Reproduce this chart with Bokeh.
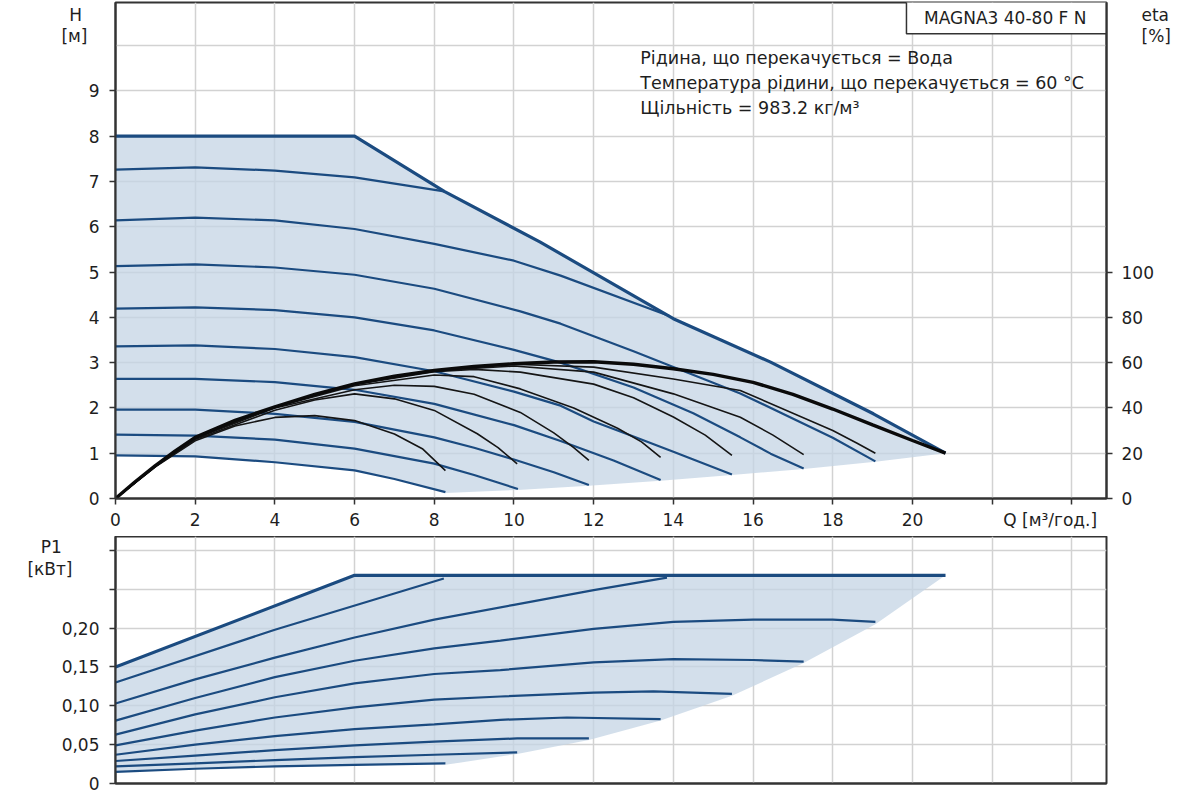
from bokeh.plotting import figure
from bokeh.layouts import column
from bokeh.models import Range1d, LinearAxis, FixedTicker, CustomJSTickFormatter, Label
from bokeh.embed import file_html
from bokeh.resources import INLINE

# ---------------- data ----------------
# Q-H curves [m3/h, m]
MAX_Q = [0, 6, 8.25, 10.66, 14, 16.44, 19.02, 20.83]
MAX_H = [8, 8, 6.78, 5.66, 3.97, 3.01, 1.87, 1.0]
A_Q = [0, 2, 4, 6, 8.25]
A_H = [7.26, 7.31, 7.24, 7.09, 6.78]
B_Q = [0, 2, 4, 6, 8, 10, 11.17, 13.9]
B_H = [6.14, 6.2, 6.14, 5.95, 5.62, 5.25, 4.92, 4.03]
C_Q = [0, 2, 4, 6, 8, 10.16, 11.17, 13, 15.68, 18, 19.07]
C_H = [5.13, 5.17, 5.1, 4.94, 4.63, 4.13, 3.86, 3.25, 2.32, 1.34, 0.82]
D_Q = [0, 2, 4, 6, 8, 10, 11.17, 13, 14.5, 15.68, 16.44, 17.27]
D_H = [4.19, 4.22, 4.16, 4.0, 3.71, 3.28, 3.0, 2.45, 1.88, 1.35, 0.99, 0.66]
E_Q = [0, 2, 4, 6, 8, 10, 11.17, 12, 13, 14, 15.47]
E_H = [3.36, 3.38, 3.3, 3.12, 2.81, 2.36, 2.05, 1.7, 1.37, 1.03, 0.53]
F_Q = [0, 2, 4, 6, 8, 10, 11.17, 12.5, 13.68]
F_H = [2.64, 2.64, 2.57, 2.4, 2.09, 1.62, 1.27, 0.84, 0.41]
G_Q = [0, 2, 4, 6, 8, 9, 10, 11, 11.88]
G_H = [1.96, 1.96, 1.87, 1.69, 1.35, 1.12, 0.86, 0.58, 0.30]
H_Q = [0, 2, 4, 6, 8, 9, 10.1]
H_H = [1.41, 1.39, 1.3, 1.1, 0.77, 0.52, 0.21]
I_Q = [0, 2, 4, 6, 7, 8.28]
I_H = [0.95, 0.93, 0.8, 0.62, 0.43, 0.14]
LOW_Q = [20.83, 19.07, 17.27, 15.47, 13.68, 11.88, 10.1, 8.28]
LOW_H = [1.0, 0.81, 0.65, 0.52, 0.39, 0.28, 0.19, 0.12]

# efficiency curves [m3/h, %]
ETA_MAX_Q = [0, 0.5, 1, 1.5, 2, 3, 4, 5, 6, 7, 8, 9, 10, 11, 12, 13, 14, 15, 16, 17, 18, 19, 20, 20.83]
ETA_MAX = [0, 7.5, 14.5, 21, 27, 34.5, 40.5, 46, 50.6, 54, 56.5, 58.3, 59.5, 60.3, 60.4, 59.3,
           57.3, 54.8, 51.3, 46, 39.5, 32.5, 25.6, 20]
S1_Q = [0, 1, 2, 3, 4, 5, 6, 7, 7.7, 8.28]
S1 = [0, 14, 25.5, 32, 35.8, 36.6, 34.4, 28.5, 22, 12.3]
S2_Q = [0, 1, 2, 4, 5, 6, 7, 8, 9.08, 9.6, 10.08]
S2 = [0, 14.2, 26, 39, 43.5, 46.2, 44, 38.9, 28.6, 22.5, 15.3]
S3_Q = [0, 1, 2, 4, 6, 7, 8, 9, 10.16, 11, 11.5, 11.88]
S3 = [0, 14.3, 26.5, 40, 48, 50, 49.5, 46, 38, 29, 22.5, 16.8]
S4_Q = [0, 1, 2, 4, 6, 8, 9, 10.16, 11.5, 12.6, 13.2, 13.68]
S4 = [0, 14.4, 26.8, 40.3, 49.8, 54.5, 53.8, 48.4, 40, 31, 25, 18.2]
S5_Q = [0, 1, 2, 4, 6, 8, 9, 10.16, 12, 13, 14, 14.8, 15.47]
S5 = [0, 14.5, 27, 40.5, 50.3, 56, 57, 55.8, 50.5, 44.5, 36, 28, 19]
S6_Q = [0, 1, 2, 4, 6, 8, 10, 12, 14, 15.68, 16.5, 17.27]
S6 = [0, 14.5, 27, 40.5, 50.5, 56.4, 58.5, 55.8, 46.2, 35.9, 28, 19.4]
S7_Q = [0, 1, 2, 4, 6, 8, 10, 12, 14, 15.68, 18, 18.6, 19.07]
S7 = [0, 14.5, 27, 40.5, 50.6, 56.5, 59.3, 58, 52.8, 47.7, 30, 24.5, 20]

# power curves [m3/h, kW]
PMAX_Q = [0, 6, 20.83]
PMAX = [0.15, 0.268, 0.268]
PA_Q = [0, 4, 8.24]
PA = [0.130, 0.198, 0.264]
PB_Q = [0, 2, 4, 6, 8, 10, 12, 13.84]
PB = [0.103, 0.134, 0.162, 0.188, 0.211, 0.23, 0.249, 0.265]
PC_Q = [0, 2, 4, 6, 8, 9.66, 12, 14, 16, 18, 19.07]
PC = [0.081, 0.11, 0.137, 0.158, 0.174, 0.184, 0.199, 0.208, 0.211, 0.211, 0.208]
PD_Q = [0, 2, 4, 6, 8, 9.66, 12, 14, 16, 17.27]
PD = [0.063, 0.089, 0.111, 0.129, 0.141, 0.146, 0.156, 0.160, 0.159, 0.157]
PE_Q = [0, 2, 4, 6, 8, 9.66, 12, 13.5, 15.47]
PE = [0.049, 0.068, 0.085, 0.098, 0.108, 0.112, 0.117, 0.1186, 0.1155]
PF_Q = [0, 2, 4, 6, 8, 9.66, 11.33, 13.68]
PF = [0.037, 0.05, 0.061, 0.07, 0.076, 0.082, 0.085, 0.083]
PG_Q = [0, 2, 4, 6, 8, 10.08, 11.88]
PG = [0.029, 0.036, 0.043, 0.049, 0.054, 0.058, 0.058]
PH_Q = [0, 2, 4, 6, 8, 10.08]
PH = [0.022, 0.026, 0.03, 0.034, 0.037, 0.040]
PI_Q = [0, 2, 4, 6, 8.28]
PI = [0.015, 0.019, 0.022, 0.024, 0.026]
PLOW_Q = [20.83, 19.07, 17.27, 15.47, 13.68, 11.88, 10.08, 8.28]
PLOW = [0.268, 0.205, 0.155, 0.113, 0.081, 0.056, 0.038, 0.024]

X_TICKS = list(range(0, 25, 2))
H_TICKS = list(range(0, 10))
H_GRID = list(range(0, 12))
ETA_TICKS = [0, 20, 40, 60, 80, 100]
P_TICKS = [0, 0.05, 0.1, 0.15, 0.2, 0.25, 0.3]

TITLE = "MAGNA3 40-80 F N"
INFO = ["Рідина, що перекачується = Вода",
        "Температура рідини, що перекачується = 60 °C",
        "Щільність = 983.2 кг/м³"]
NB = "\u00a0"
Q_LABEL = "Q [м³/год.]"
H_LABELS = ["H" + NB, "[м]"]
H_LABEL_POS = [10.68, 10.2]
ETA_LABELS = ["eta", "[%]"]
ETA_LABEL_POS = [10.68, 10.2]
P_LABELS = ["P1" + NB * 2, "[кВт]"]
P_LABEL_POS = [0.306, 0.276]

# ---------------- style ----------------
FONT = "DejaVu Sans"
FS = "17px"
BLUE = "#1b4b80"
FILL = "#c4d4e4"
GRID = "#d2d2d2"
AX = "#333333"
TXT = "#1e1e1e"
Q_END = 24.87
H_TOP = 10.95
P_TOP = 0.318

LABEL_JS = """
const i = pos.findIndex(t => Math.abs(t - tick) < 1e-6);
return i < 0 ? '' : labs[i];
"""


def style_axis(ax, standoff):
    ax.axis_line_color = AX
    ax.axis_line_width = 2
    ax.major_tick_line_color = AX
    ax.major_tick_line_width = 1.5
    ax.major_tick_out = 6
    ax.major_tick_in = 0
    ax.minor_tick_line_color = None
    ax.major_label_text_font = FONT
    ax.major_label_text_font_size = FS
    ax.major_label_text_color = TXT
    ax.major_label_standoff = standoff


def label_axis(positions, texts, standoff, y_range_name="default"):
    ax = LinearAxis(y_range_name=y_range_name, ticker=FixedTicker(ticks=positions),
                    formatter=CustomJSTickFormatter(args=dict(pos=positions, labs=texts), code=LABEL_JS))
    ax.axis_line_color = None
    ax.major_tick_line_color = None
    ax.minor_tick_line_color = None
    ax.major_tick_out = 0
    ax.major_tick_in = 0
    ax.major_label_text_font = FONT
    ax.major_label_text_font_size = FS
    ax.major_label_text_color = TXT
    ax.major_label_standoff = standoff
    return ax


# ---------------- top figure: Q-H and eta ----------------
p1 = figure(frame_width=991, frame_height=496, x_range=Range1d(0, Q_END), y_range=Range1d(0, H_TOP),
            output_backend="svg", toolbar_location=None,
            min_border_left=115, min_border_right=86, min_border_top=2, min_border_bottom=38)
p1.outline_line_color = AX
p1.outline_line_width = 2
p1.xgrid.ticker = FixedTicker(ticks=X_TICKS)
p1.ygrid.ticker = FixedTicker(ticks=H_GRID)
for g in (p1.xgrid, p1.ygrid):
    g.grid_line_color = GRID
    g.grid_line_width = 1.5

style_axis(p1.xaxis[0], 5)
p1.xaxis.ticker = FixedTicker(ticks=X_TICKS)
p1.xaxis.formatter = CustomJSTickFormatter(args=dict(qlabel=Q_LABEL + NB * 8), code="""
if (tick > 23) return qlabel;
if (tick > 21) return '';
return tick.toString();
""")
style_axis(p1.yaxis[0], 10)
p1.yaxis.ticker = FixedTicker(ticks=H_TICKS)
p1.add_layout(label_axis(H_LABEL_POS, H_LABELS, -2), "left")

p1.extra_y_ranges = {"eta": Range1d(0, H_TOP * 20)}
eta_axis = LinearAxis(y_range_name="eta", ticker=FixedTicker(ticks=ETA_TICKS))
style_axis(eta_axis, 9)
p1.add_layout(eta_axis, "right")
p1.add_layout(label_axis(ETA_LABEL_POS, ETA_LABELS, -15), "right")

# fill region
fill_x = MAX_Q + LOW_Q[1:] + I_Q[::-1]
fill_y = MAX_H + LOW_H[1:] + I_H[::-1]
p1.patch(fill_x, fill_y, fill_color=FILL, fill_alpha=0.75, line_color=None)

for qx, hy in [(A_Q, A_H), (B_Q, B_H), (C_Q, C_H), (D_Q, D_H), (E_Q, E_H),
               (F_Q, F_H), (G_Q, G_H), (H_Q, H_H), (I_Q, I_H)]:
    p1.line(qx, hy, line_color=BLUE, line_width=2.2)
p1.line(MAX_Q, MAX_H, line_color=BLUE, line_width=3.2)

for qx, ey in [(S1_Q, S1), (S2_Q, S2), (S3_Q, S3), (S4_Q, S4), (S5_Q, S5), (S6_Q, S6), (S7_Q, S7)]:
    p1.line(qx, ey, line_color="#151515", line_width=1.6, y_range_name="eta")
p1.line(ETA_MAX_Q, ETA_MAX, line_color="#0a0a0a", line_width=3.4, y_range_name="eta")

# title box and info text
p1.quad(left=[19.85], right=[Q_END], bottom=[10.26], top=[H_TOP + 1], fill_color="white",
        line_color=AX, line_width=1.5)
p1.add_layout(Label(x=22.33, y=10.6, text=TITLE, text_align="center", text_baseline="middle",
                    text_font=FONT, text_font_size="17px", text_color=TXT))
for i, t in enumerate(INFO):
    p1.add_layout(Label(x=13.17, y=9.72 - 0.545 * i, text=t, text_align="left",
                        text_baseline="alphabetic", text_font=FONT, text_font_size="17.5px",
                        text_color=TXT))

# ---------------- bottom figure: P1 ----------------
p2 = figure(frame_width=991, frame_height=247, x_range=p1.x_range, y_range=Range1d(0, P_TOP),
            output_backend="svg", toolbar_location=None,
            min_border_left=115, min_border_right=86, min_border_top=0, min_border_bottom=17)
p2.outline_line_color = AX
p2.outline_line_width = 2
p2.xgrid.ticker = FixedTicker(ticks=X_TICKS)
p2.ygrid.ticker = FixedTicker(ticks=P_TICKS)
for g in (p2.xgrid, p2.ygrid):
    g.grid_line_color = GRID
    g.grid_line_width = 1.5

style_axis(p2.xaxis[0], 0)
p2.xaxis.ticker = FixedTicker(ticks=X_TICKS)
p2.xaxis.formatter = CustomJSTickFormatter(code="return '';")
p2.xaxis.major_tick_out = 0
p2.xaxis.major_label_text_font_size = "0px"
style_axis(p2.yaxis[0], 10)
p2.yaxis.ticker = FixedTicker(ticks=P_TICKS)
p2.yaxis.formatter = CustomJSTickFormatter(code="""
if (tick > 0.21) return '';
if (Math.abs(tick) < 1e-9) return '0';
return tick.toFixed(2).replace('.', ',');
""")
p2.add_layout(label_axis(P_LABEL_POS, P_LABELS, -14), "left")

pfill_x = PMAX_Q + PLOW_Q[1:] + PI_Q[::-1]
pfill_y = PMAX + PLOW[1:] + PI[::-1]
p2.patch(pfill_x, pfill_y, fill_color=FILL, fill_alpha=0.75, line_color=None)
for qx, py in [(PA_Q, PA), (PB_Q, PB), (PC_Q, PC), (PD_Q, PD), (PE_Q, PE),
               (PF_Q, PF), (PG_Q, PG), (PH_Q, PH), (PI_Q, PI)]:
    p2.line(qx, py, line_color=BLUE, line_width=2.2)
p2.line(PMAX_Q, PMAX, line_color=BLUE, line_width=3.2)

layout = column(p1, p2, spacing=0)
open("out.html", "w").write(file_html(layout, INLINE))
